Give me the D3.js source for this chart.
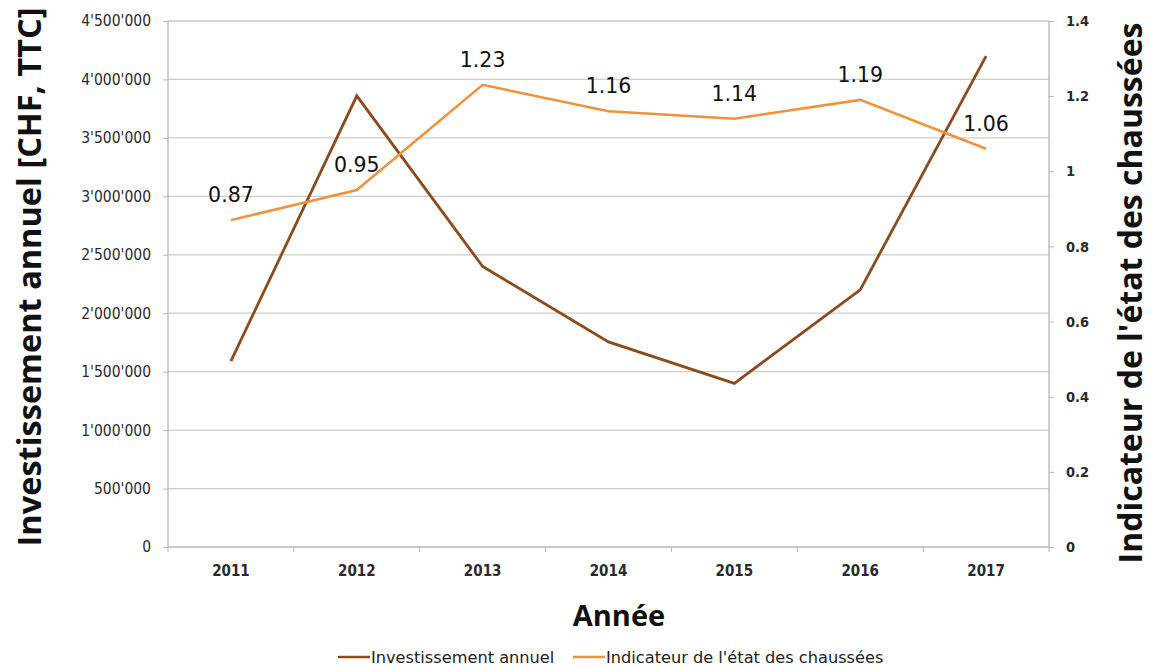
<!DOCTYPE html>
<html><head><meta charset="utf-8">
<script src="https://cdn.jsdelivr.net/npm/d3@7"></script>
<style>body{margin:0;background:#fff}</style>
</head><body>
<svg id="c" width="1152" height="666"></svg>
<script>
const years = ["2011","2012","2013","2014","2015","2016","2017"];
const investissement = [1590000, 3860000, 2400000, 1755000, 1400000, 2200000, 4200000];
const indicateur = [0.87, 0.95, 1.23, 1.16, 1.14, 1.19, 1.06];
const leftTicks = [0,500000,1000000,1500000,2000000,2500000,3000000,3500000,4000000,4500000];
const rightTicks = [0,0.2,0.4,0.6,0.8,1,1.2,1.4];

const svg = d3.select("#c");
const L = 168, R = 1049, T = 21, B = 547;
const x = d3.scaleBand().domain(years).range([L, R]);
const yL = d3.scaleLinear().domain([0, 4500000]).range([B, T]);
const yR = d3.scaleLinear().domain([0, 1.4]).range([B, T]);
const fmt = d => d3.format(",")(d).replace(/,/g, "'");

// gridlines
svg.append("g").selectAll("line").data(leftTicks.slice(1)).join("line")
  .attr("x1", L).attr("x2", R).attr("y1", d => yL(d)).attr("y2", d => yL(d))
  .attr("stroke", "#d2cbc8").attr("stroke-width", 1.3);

const gL = svg.append("g").attr("transform", `translate(${L},0)`)
  .call(d3.axisLeft(yL).tickValues(leftTicks).tickFormat(fmt).tickSize(5).tickPadding(12));
const gR = svg.append("g").attr("transform", `translate(${R},0)`)
  .call(d3.axisRight(yR).tickValues(rightTicks).tickFormat(d => d3.format("~g")(d)).tickSize(5).tickPadding(12));
const gB = svg.append("g").attr("transform", `translate(0,${B})`)
  .call(d3.axisBottom(x).tickSize(0).tickPadding(18));
gB.selectAll(".tick").append("line").attr("x1", -x.bandwidth()/2).attr("x2", -x.bandwidth()/2).attr("y2", 5).attr("stroke", "#bdb5b1");
gB.append("line").attr("x1", R).attr("x2", R).attr("y2", 5).attr("stroke", "#bdb5b1");
[gL, gR, gB].forEach(g => {
  g.select(".domain").attr("stroke", "#bdb5b1").attr("stroke-width", 1.3);
  g.selectAll(".tick line").attr("stroke", "#bdb5b1");
  g.selectAll("text").attr("font-family", "DejaVu Sans Condensed, DejaVu Sans").attr("fill", "#2a2a2a");
});
gL.selectAll("text").attr("font-size", 15.5);
gR.selectAll("text").attr("font-size", 14.5).attr("font-weight", "bold");
gB.selectAll("text").attr("font-size", 15).attr("font-weight", "bold");
gL.select(".domain").attr("d", `M0,${T}V${B}`);
gR.select(".domain").attr("d", `M0,${T}V${B}`);
gB.select(".domain").attr("d", `M${L},0H${R}`);

// lines
const cx = i => x(years[i]) + x.bandwidth()/2;
const lineL = d3.line().x((d, i) => cx(i)).y(d => yL(d));
const lineR = d3.line().x((d, i) => cx(i)).y(d => yR(d));
svg.append("path").attr("d", lineL(investissement)).attr("fill", "none")
  .attr("stroke", "#8c4b1d").attr("stroke-width", 2.8);
svg.append("path").attr("d", lineR(indicateur)).attr("fill", "none")
  .attr("stroke", "#f0923b").attr("stroke-width", 2.5);

// data labels
svg.append("g").selectAll("text").data(indicateur).join("text")
  .attr("x", (d, i) => cx(i))
  .attr("y", d => yR(d) - 18)
  .attr("text-anchor", "middle")
  .attr("font-family", "DejaVu Sans").attr("font-size", 20.5).attr("fill", "#111")
  .text(d => d3.format(".2f")(d));

// axis titles
svg.append("text").attr("transform", `translate(41,277) rotate(-90)`)
  .attr("text-anchor", "middle").attr("font-family", "Open Sans").attr("font-weight", 700)
  .attr("font-size", 32.5).attr("fill", "#111").text("Investissement annuel [CHF, TTC]");
svg.append("text").attr("transform", `translate(1142,293) rotate(-90)`)
  .attr("text-anchor", "middle").attr("font-family", "Open Sans").attr("font-weight", 700)
  .attr("font-size", 32).attr("fill", "#111").text("Indicateur de l'état des chaussées");
svg.append("text").attr("x", 619).attr("y", 626).attr("text-anchor", "middle")
  .attr("font-family", "Open Sans").attr("font-weight", 700).attr("font-size", 29)
  .attr("fill", "#111").text("Année");

// legend
const leg = svg.append("g").attr("font-family", "DejaVu Sans").attr("font-size", 16.2).attr("fill", "#222");
const items = [{t: "Investissement annuel", c: "#8c4b1d", x: 338}, {t: "Indicateur de l'état des chaussées", c: "#f0923b", x: 573}];
items.forEach(it => {
  leg.append("line").attr("x1", it.x).attr("x2", it.x + 32).attr("y1", 657).attr("y2", 657)
    .attr("stroke", it.c).attr("stroke-width", 2.5);
  leg.append("text").attr("x", it.x + 33).attr("y", 663).text(it.t);
});
</script>
</body></html>
